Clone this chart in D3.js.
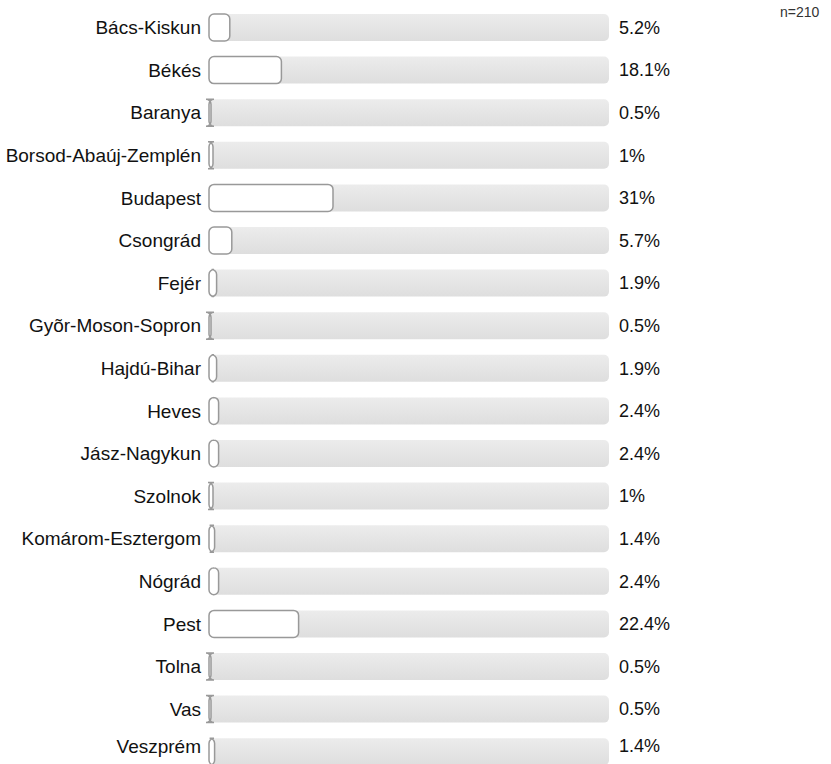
<!DOCTYPE html>
<html>
<head>
<meta charset="utf-8">
<script src="https://cdn.jsdelivr.net/npm/d3@7"></script>
<style>
html,body{margin:0;padding:0;background:#fff;overflow:hidden;}
svg{display:block;font-family:"Liberation Sans",Arial,Helvetica,sans-serif;}
</style>
</head>
<body>
<svg id="chart" width="831" height="764"></svg>
<script>
const categories = ["Bács-Kiskun","Békés","Baranya","Borsod-Abaúj-Zemplén","Budapest","Csongrád","Fejér","Gyõr-Moson-Sopron","Hajdú-Bihar","Heves","Jász-Nagykun","Szolnok","Komárom-Esztergom","Nógrád","Pest","Tolna","Vas","Veszprém"];
const values = [5.2,18.1,0.5,1,31,5.7,1.9,0.5,1.9,2.4,2.4,1,1.4,2.4,22.4,0.5,0.5,1.4];
const valueLabels = ["5.2%","18.1%","0.5%","1%","31%","5.7%","1.9%","0.5%","1.9%","2.4%","2.4%","1%","1.4%","2.4%","22.4%","0.5%","0.5%","1.4%"];
const sampleLabel = "n=210";

const W = 831, H = 764;
const svg = d3.select("#chart");
const defs = svg.append("defs");
const grad = defs.append("linearGradient").attr("id","track").attr("x1",0).attr("y1",0).attr("x2",0).attr("y2",1);
grad.append("stop").attr("offset","0%").attr("stop-color","#ececec");
grad.append("stop").attr("offset","100%").attr("stop-color","#dedede");

const x = d3.scaleLinear().domain([0,100]).range([209,609]);
const step = 42.6, bh = 27, top0 = 14;
const y = d3.scalePoint().domain(categories).range([top0, top0 + step*(categories.length-1)]);

// rounded rectangle path with a fixed corner radius (as the original renderer draws it)
function roundBar(x0, y0, w, h, r) {
  return `M${x0+r},${y0}H${x0+w-r}A${r},${r} 0 0 1 ${x0+w},${y0+r}V${y0+h-r}` +
         `A${r},${r} 0 0 1 ${x0+w-r},${y0+h}H${x0+r}A${r},${r} 0 0 1 ${x0},${y0+h-r}` +
         `V${y0+r}A${r},${r} 0 0 1 ${x0+r},${y0}Z`;
}
// labels are kept inside the canvas
const labelY = c => Math.min(y(c) + bh/2, H - 18) - y(c);

const rows = svg.append("g").selectAll("g").data(categories).join("g")
  .attr("transform", c => `translate(0,${y(c)})`);

rows.append("rect")
  .attr("x", x(0)).attr("y", 0)
  .attr("width", x(100)-x(0)).attr("height", bh)
  .attr("rx", 5).attr("ry", 5)
  .attr("fill", "url(#track)");

rows.append("path")
  .attr("d", (c,i) => roundBar(x(0), 0, x(values[i]) - x(0), bh, 5))
  .attr("fill", "#fff").attr("stroke", "#999").attr("stroke-width", 1.5);

rows.append("text")
  .attr("x", 201).attr("y", labelY).attr("dy","0.35em")
  .attr("text-anchor","end").attr("font-size", 19).attr("fill","#111")
  .text(c => c);

rows.append("text")
  .attr("x", 619).attr("y", labelY).attr("dy","0.35em")
  .attr("font-size", 18).attr("fill","#111")
  .text((c,i) => valueLabels[i]);

svg.append("text").attr("x", 780).attr("y", 17)
  .attr("font-size", 14).attr("fill","#333").text(sampleLabel);
</script>
</body>
</html>
